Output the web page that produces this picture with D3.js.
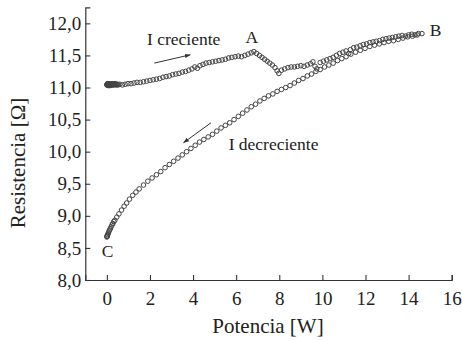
<!DOCTYPE html>
<html>
<head>
<meta charset="utf-8">
<script src="https://cdn.jsdelivr.net/npm/d3@7"></script>
<style>
  body { margin: 0; background: #fff; }
  svg text { font-family: "Liberation Serif", "DejaVu Serif", "Times New Roman", serif; fill: #222; }
</style>
</head>
<body>
<div id="chart"></div>
<script>
// I creciente (ida) : potencia [W] y resistencia [ohm]
var potCrec = [0.00,0.01,0.02,0.03,0.04,0.05,0.06,0.07,0.08,0.09,0.10,0.11,0.12,0.14,0.15,0.17,0.18,0.20,0.22,0.24,0.26,0.28,0.30,0.33,0.35,0.38,0.40,0.43,0.46,0.49,0.52,
  0.60,0.72,0.85,0.98,1.12,1.26,1.40,1.55,1.70,1.85,2.00,2.15,2.30,2.45,2.60,2.75,2.90,3.05,
  3.20,3.35,3.50,3.65,3.80,3.95,4.08,4.20,4.32,4.46,4.60,4.75,4.90,5.05,5.20,5.35,5.50,5.65,
  5.80,5.95,6.10,6.25,6.40,6.55,6.70,6.82,6.95,7.08,7.20,7.32,7.44,7.56,7.68,7.80,7.90,7.98,
  8.10,8.25,8.40,8.55,8.70,8.85,9.00,9.15,9.30,9.45,9.56,9.66,9.74,9.90,10.05,10.20,10.35,
  10.50,10.65,10.80,10.95,11.10,11.22,11.30,11.45,11.60,11.75,11.90,12.05,12.20,12.35,12.50,
  12.65,12.80,12.95,13.10,13.25,13.40,13.55,13.70,13.85,14.00,14.15,14.30,14.45];
var resCrec = [11.04,11.05,11.04,11.06,11.05,11.04,11.05,11.03,11.04,11.05,11.06,11.04,11.05,11.04,11.03,11.05,11.04,11.05,11.04,11.06,11.05,11.04,11.05,11.04,11.05,11.06,11.05,11.04,11.05,11.05,11.04,
  11.05,11.04,11.05,11.06,11.06,11.07,11.08,11.08,11.09,11.10,11.11,11.12,11.13,11.14,11.16,11.17,11.18,11.20,
  11.21,11.22,11.24,11.25,11.27,11.29,11.32,11.30,11.34,11.36,11.38,11.39,11.40,11.41,11.42,11.43,11.44,11.46,
  11.47,11.48,11.49,11.48,11.50,11.52,11.54,11.56,11.53,11.50,11.47,11.44,11.41,11.38,11.35,11.31,11.26,11.22,
  11.27,11.29,11.31,11.32,11.32,11.33,11.34,11.33,11.35,11.37,11.40,11.33,11.29,11.39,11.41,11.43,11.45,
  11.47,11.50,11.53,11.55,11.57,11.53,11.59,11.62,11.63,11.65,11.67,11.68,11.70,11.71,11.72,
  11.73,11.75,11.76,11.77,11.78,11.79,11.80,11.81,11.80,11.82,11.83,11.82,11.84];

// I decreciente (vuelta) : de B a C
var potDecr = [14.62,14.40,14.18,13.96,13.74,13.52,13.30,13.08,12.86,12.64,12.42,12.20,11.98,11.76,
  11.54,11.32,11.10,10.90,10.70,10.50,10.30,10.10,9.90,9.70,9.50,9.30,9.10,8.90,8.70,8.50,8.30,
  8.10,7.90,7.70,7.50,7.30,7.10,6.90,6.70,6.50,6.30,6.10,5.90,5.70,5.50,5.30,5.10,4.90,4.70,
  4.50,4.30,4.10,3.90,3.70,3.50,3.30,3.10,2.90,2.70,2.50,2.30,2.10,1.90,1.70,1.50,1.35,1.20,
  1.05,0.92,0.80,0.68,0.56,0.46,0.37,0.32,0.28,0.24,0.20,0.16,0.13,0.10,0.07,0.04,0.02,0.01,0.00];
var resDecr = [11.84,11.82,11.80,11.79,11.77,11.75,11.73,11.72,11.70,11.68,11.66,11.64,11.61,11.58,
  11.55,11.52,11.48,11.45,11.42,11.38,11.35,11.32,11.28,11.25,11.21,11.18,11.14,11.11,11.07,11.03,11.00,
  10.97,10.94,10.90,10.87,10.83,10.79,10.74,10.70,10.65,10.60,10.55,10.50,10.45,10.41,10.37,10.32,10.27,10.23,
  10.19,10.15,10.10,10.05,10.00,9.95,9.90,9.85,9.80,9.75,9.69,9.64,9.59,9.54,9.48,9.42,9.37,9.32,
  9.26,9.20,9.15,9.09,9.03,8.98,8.93,8.91,8.88,8.86,8.83,8.80,8.78,8.76,8.73,8.71,8.69,8.68,8.67];

var xTicks = [0,2,4,6,8,10,12,14,16];
var yTicks = [8.0,8.5,9.0,9.5,10.0,10.5,11.0,11.5,12.0];

var width = 462, height = 340;
var serif = '"Liberation Serif", "DejaVu Serif", "Times New Roman", serif';
var svg = d3.select("#chart").append("svg")
  .attr("width", width).attr("height", height);

var x = d3.scaleLinear().domain([-1, 16]).range([85.3, 451.7]);
var y = d3.scaleLinear().domain([8, 12.25]).range([280, 7.3]);

var fmt = function(d) { return d3.format(".1f")(d).replace(".", ","); };

// eje x
var gx = svg.append("g").attr("transform", "translate(0," + y(8) + ")");
gx.call(d3.axisBottom(x).tickValues(d3.range(1, 16, 2)).tickSize(-3).tickFormat(""));
gx.call(d3.axisBottom(x).tickValues(xTicks).tickSize(-5).tickPadding(12).tickFormat(d3.format("d")));

// eje y
var gy = svg.append("g").attr("transform", "translate(" + x(-1) + ",0)");
gy.call(d3.axisLeft(y).tickValues(d3.range(8.25, 12.3, 0.5)).tickSize(-3).tickFormat(""));
gy.call(d3.axisLeft(y).tickValues(yTicks).tickSize(-5).tickPadding(4).tickFormat(fmt));

gx.attr("font-family", null); gy.attr("font-family", null);
svg.selectAll(".tick text").attr("font-size", 19).style("font-family", serif).attr("fill", "#222");
svg.selectAll(".domain").attr("stroke", "#333").attr("stroke-width", 1.2);
svg.selectAll(".tick line").attr("stroke", "#333").attr("stroke-width", 1.1);

// titulos
svg.append("text").attr("x", 268).attr("y", 333).attr("text-anchor", "middle")
  .attr("font-size", 21).style("font-family", serif).text("Potencia [W]");
svg.append("text").attr("transform", "translate(25,163) rotate(-90)")
  .attr("text-anchor", "middle").attr("font-size", 21).style("font-family", serif).text("Resistencia [Ω]");

// puntos
function puntos(px, py) {
  svg.append("g").selectAll("circle")
    .data(px.map(function(d, i) { return [d, py[i]]; }))
    .enter().append("circle")
    .attr("cx", function(d) { return x(d[0]); })
    .attr("cy", function(d) { return y(d[1]); })
    .attr("r", 2.3)
    .attr("fill", "none")
    .attr("stroke", "#444")
    .attr("stroke-width", 1);
}
puntos(potCrec, resCrec);
puntos(potDecr, resDecr);

// flechas y etiquetas
svg.append("defs").append("marker")
  .attr("id", "punta").attr("viewBox", "0 0 10 10").attr("refX", 9).attr("refY", 5)
  .attr("markerWidth", 6).attr("markerHeight", 6).attr("orient", "auto")
  .append("path").attr("d", "M0,1.5 L10,5 L0,8.5 Z").attr("fill", "#333");

function flecha(x1, y1, x2, y2) {
  svg.append("line")
    .attr("x1", x(x1)).attr("y1", y(y1)).attr("x2", x(x2)).attr("y2", y(y2))
    .attr("stroke", "#333").attr("stroke-width", 1).attr("marker-end", "url(#punta)");
}
flecha(2.2, 11.38, 3.87, 11.51);
flecha(4.83, 10.45, 3.56, 10.14);

function etiqueta(px, py, t, anchor) {
  svg.append("text").attr("x", x(px)).attr("y", y(py))
    .attr("text-anchor", anchor).attr("font-size", 17.5).style("font-family", serif).text(t);
}
etiqueta(1.86, 11.66, "I creciente", "start");
etiqueta(6.73, 11.69, "A", "middle");
etiqueta(15.25, 11.80, "B", "middle");
etiqueta(0.04, 8.36, "C", "middle");
etiqueta(5.65, 10.03, "I decreciente", "start");
</script>
</body>
</html>
